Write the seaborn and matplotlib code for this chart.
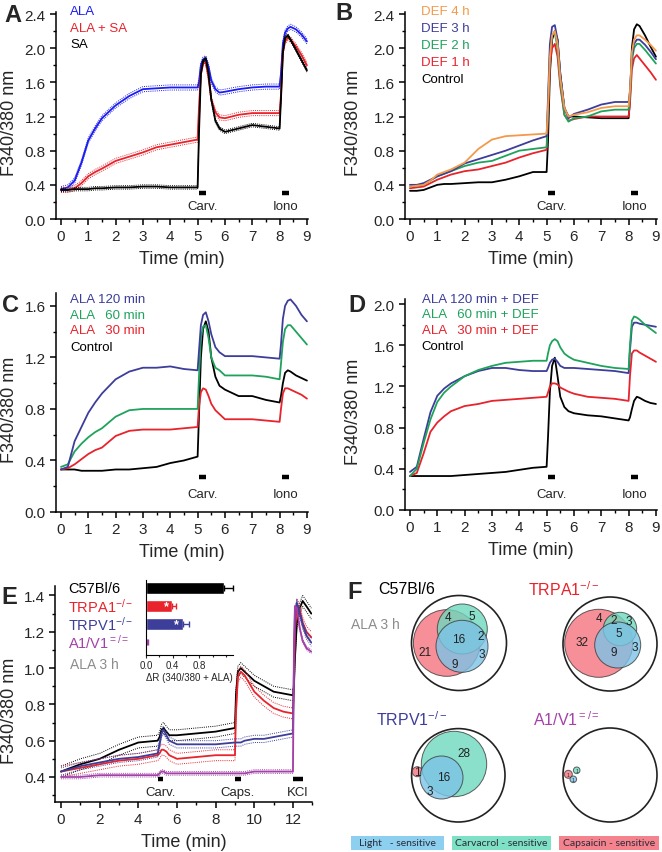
import matplotlib
matplotlib.use("Agg")
import matplotlib.pyplot as plt
from matplotlib.patches import Circle, Rectangle
from matplotlib.ticker import MultipleLocator, FormatStrFormatter, FixedLocator
import seaborn as sns

W, H = 662, 853

# ---------------- data ----------------
# shared time grid for panels A-D (min)
T9 = [0, 0.25, 0.5, 0.75, 1, 1.25, 1.5, 2, 2.5, 3, 3.5, 4, 4.5, 5,
      5.05, 5.12, 5.2, 5.3, 5.4, 5.5, 5.65, 5.8,
      6, 6.5, 7, 7.5, 8,
      8.05, 8.12, 8.2, 8.3, 8.4, 8.6, 8.8, 9]

# A
A_ALA = [0.35, 0.37, 0.45, 0.66, 0.92, 1.06, 1.18, 1.33, 1.44, 1.52, 1.53, 1.54, 1.54, 1.54,
         1.60, 1.80, 1.87, 1.88, 1.78, 1.62, 1.52, 1.48,
         1.49, 1.52, 1.54, 1.55, 1.55,
         1.70, 2.05, 2.18, 2.23, 2.25, 2.22, 2.16, 2.08]
A_ALA_SA = [0.34, 0.34, 0.36, 0.42, 0.50, 0.55, 0.59, 0.68, 0.73, 0.78, 0.84, 0.87, 0.90, 0.93,
            1.30, 1.70, 1.82, 1.83, 1.65, 1.40, 1.25, 1.19,
            1.18, 1.22, 1.24, 1.24, 1.24,
            1.45, 1.95, 2.08, 2.12, 2.10, 2.02, 1.92, 1.80]
A_SA = [0.34, 0.34, 0.35, 0.35, 0.35, 0.36, 0.36, 0.37, 0.37, 0.38, 0.38, 0.37, 0.37, 0.37,
        1.00, 1.70, 1.85, 1.88, 1.70, 1.40, 1.15, 1.06,
        1.02, 1.06, 1.10, 1.08, 1.06,
        1.40, 1.95, 2.12, 2.15, 2.10, 1.98, 1.86, 1.74]
A_SEM = [0.03, 0.03, 0.02]

# B
B_DEF4 = [0.38, 0.39, 0.40, 0.45, 0.52, 0.55, 0.58, 0.66, 0.82, 0.93, 0.97, 0.98, 0.99, 1.00,
          1.30, 1.90, 2.15, 2.20, 2.05, 1.65, 1.30, 1.20,
          1.22, 1.25, 1.30, 1.32, 1.32,
          1.50, 1.95, 2.10, 2.15, 2.15, 2.10, 2.04, 1.97]
B_DEF3 = [0.40, 0.40, 0.42, 0.46, 0.50, 0.53, 0.56, 0.65, 0.70, 0.75, 0.80, 0.86, 0.92, 0.97,
          1.40, 2.05, 2.25, 2.27, 2.10, 1.70, 1.30, 1.18,
          1.23, 1.28, 1.34, 1.37, 1.37,
          1.50, 1.90, 2.05, 2.10, 2.10, 2.04, 1.96, 1.87]
B_DEF2 = [0.38, 0.39, 0.40, 0.45, 0.50, 0.53, 0.56, 0.62, 0.66, 0.68, 0.74, 0.80, 0.82, 0.84,
          1.30, 1.95, 2.15, 2.18, 2.00, 1.60, 1.22, 1.14,
          1.18, 1.20, 1.26, 1.28, 1.28,
          1.45, 1.85, 2.00, 2.05, 2.05, 1.98, 1.90, 1.82]
B_DEF1 = [0.36, 0.37, 0.38, 0.42, 0.46, 0.49, 0.52, 0.56, 0.58, 0.62, 0.66, 0.72, 0.77, 0.81,
          1.20, 1.80, 2.00, 2.05, 1.90, 1.55, 1.22, 1.15,
          1.17, 1.20, 1.20, 1.20, 1.20,
          1.35, 1.75, 1.88, 1.92, 1.88, 1.80, 1.72, 1.63]
B_CTRL = [0.33, 0.33, 0.34, 0.37, 0.40, 0.41, 0.41, 0.42, 0.43, 0.43, 0.46, 0.50, 0.55, 0.55,
          0.90, 1.70, 2.10, 2.20, 2.10, 1.70, 1.30, 1.20,
          1.20, 1.19, 1.18, 1.18, 1.18,
          1.40, 2.00, 2.22, 2.28, 2.26, 2.15, 2.02, 1.90]

# C
C_120 = [0.33, 0.35, 0.55, 0.66, 0.77, 0.85, 0.92, 1.03, 1.09, 1.12, 1.12, 1.13, 1.11, 1.10,
         1.25, 1.45, 1.53, 1.55, 1.48, 1.38, 1.28, 1.24,
         1.21, 1.21, 1.21, 1.20, 1.19,
         1.30, 1.50, 1.60, 1.64, 1.65, 1.60, 1.53, 1.48]
C_60 = [0.35, 0.37, 0.47, 0.53, 0.58, 0.62, 0.65, 0.74, 0.79, 0.80, 0.80, 0.80, 0.80, 0.80,
        1.05, 1.35, 1.44, 1.45, 1.35, 1.20, 1.12, 1.10,
        1.06, 1.06, 1.06, 1.05, 1.03,
        1.15, 1.32, 1.42, 1.45, 1.45, 1.40, 1.35, 1.30]
C_30 = [0.33, 0.34, 0.37, 0.41, 0.45, 0.48, 0.50, 0.59, 0.63, 0.64, 0.64, 0.64, 0.65, 0.66,
        0.82, 0.93, 0.96, 0.95, 0.90, 0.84, 0.79, 0.76,
        0.72, 0.72, 0.72, 0.71, 0.70,
        0.80, 0.92, 0.96, 0.96, 0.95, 0.93, 0.91, 0.88]
C_CTRL = [0.33, 0.33, 0.33, 0.32, 0.32, 0.32, 0.32, 0.33, 0.33, 0.34, 0.35, 0.38, 0.40, 0.43,
          0.75, 1.20, 1.42, 1.48, 1.40, 1.20, 1.05, 0.98,
          0.95, 0.90, 0.90, 0.87, 0.85,
          0.90, 1.00, 1.08, 1.10, 1.09, 1.06, 1.04, 1.02]

# D
D_120 = [0.37, 0.42, 0.69, 0.95, 1.11, 1.18, 1.23, 1.30, 1.35, 1.38, 1.38, 1.36, 1.35, 1.35,
         1.38, 1.43, 1.46, 1.47, 1.44, 1.40, 1.38, 1.38,
         1.38, 1.37, 1.36, 1.35, 1.33,
         1.55, 1.78, 1.82, 1.82, 1.81, 1.80, 1.79, 1.78]
D_60 = [0.33, 0.40, 0.65, 0.88, 1.05, 1.14, 1.20, 1.30, 1.36, 1.40, 1.43, 1.44, 1.45, 1.45,
        1.52, 1.60, 1.64, 1.66, 1.64, 1.58, 1.52, 1.49,
        1.46, 1.43, 1.40, 1.38, 1.37,
        1.60, 1.84, 1.88, 1.87, 1.85, 1.80, 1.76, 1.72]
D_30 = [0.33, 0.36, 0.55, 0.76, 0.85, 0.91, 0.96, 1.01, 1.03, 1.06, 1.07, 1.08, 1.09, 1.10,
        1.14, 1.20, 1.23, 1.23, 1.22, 1.19, 1.17, 1.15,
        1.13, 1.10, 1.09, 1.08, 1.06,
        1.30, 1.52, 1.55, 1.55, 1.53, 1.50, 1.47, 1.44]
D_CTRL = [0.33, 0.33, 0.33, 0.33, 0.33, 0.33, 0.33, 0.34, 0.35, 0.36, 0.37, 0.39, 0.41, 0.42,
          0.70, 1.15, 1.40, 1.48, 1.30, 1.10, 1.00, 0.96,
          0.94, 0.92, 0.91, 0.89, 0.87,
          0.90, 0.98, 1.06, 1.10, 1.09, 1.06, 1.04, 1.03]

# E
TE = [0, 1, 2, 3, 4, 5, 5.1, 5.2, 5.3, 5.45, 5.6, 6, 7, 8, 9,
      9.05, 9.15, 9.3, 9.5, 10, 10.5, 11, 11.5, 12,
      12.05, 12.1, 12.2, 12.35, 12.5, 12.7, 12.95]
E_C57 = [0.43, 0.47, 0.50, 0.55, 0.59, 0.60, 0.62, 0.66, 0.67, 0.65, 0.63, 0.63, 0.64, 0.65, 0.67,
         0.85, 0.98, 1.00, 0.98, 0.93, 0.90, 0.87, 0.86, 0.85,
         0.90, 1.05, 1.25, 1.33, 1.37, 1.34, 1.30]
E_A1 = [0.43, 0.45, 0.47, 0.49, 0.50, 0.52, 0.53, 0.55, 0.55, 0.54, 0.52, 0.50, 0.51, 0.52, 0.52,
        0.75, 0.95, 0.98, 0.96, 0.87, 0.82, 0.78, 0.76, 0.75,
        0.90, 1.20, 1.35, 1.32, 1.25, 1.20, 1.17]
E_V1 = [0.43, 0.46, 0.48, 0.50, 0.51, 0.53, 0.58, 0.64, 0.66, 0.63, 0.60, 0.58, 0.58, 0.58, 0.59,
        0.59, 0.59, 0.59, 0.60, 0.61, 0.61, 0.62, 0.63, 0.64,
        1.00, 1.30, 1.36, 1.30, 1.24, 1.18, 1.14]
E_A1V1 = [0.40, 0.40, 0.41, 0.41, 0.41, 0.41, 0.42, 0.43, 0.43, 0.42, 0.42, 0.42, 0.42, 0.42, 0.42,
          0.42, 0.42, 0.42, 0.42, 0.43, 0.43, 0.43, 0.43, 0.43,
          1.10, 1.34, 1.33, 1.22, 1.15, 1.11, 1.09]
E_SEM = [0.03, 0.03, 0.02, 0.01]

# E inset bars
BAR_GROUPS = ["C57Bl/6", "TRPA1", "TRPV1", "A1/V1"]
BAR_DR = [1.17, 0.39, 0.55, 0.02]
BAR_ERR = [0.14, 0.06, 0.10, 0.01]

# F venn counts
VENN_C57 = ["21", "4", "5", "16", "2", "3", "9"]
VENN_A1 = ["32", "4", "2", "3", "5", "9", "3"]
VENN_V1 = ["28", "16", "1", "3"]
VENN_A1V1 = ["1", "1", "1"]

# ---------------- style ----------------
sns.set_theme(style="ticks")
plt.rcParams['font.family'] = ['Liberation Sans', 'DejaVu Sans']
plt.rcParams['mathtext.fontset'] = 'custom'
plt.rcParams['mathtext.rm'] = 'Liberation Sans'
plt.rcParams['mathtext.it'] = 'Liberation Sans:italic'
plt.rcParams['mathtext.bf'] = 'Liberation Sans:bold'

BLUE = "#1c1cf0"
RED = "#e8232b"
NAVY = "#3d3d9a"
GREEN = "#1ea35c"
ORANGE = "#f39a4a"
PURPLE = "#a441a8"
GREY = "#8c8c8c"

fig = plt.figure(figsize=(W / 100, H / 100), dpi=100)


def add_ax(left, top, right, bottom):
    return fig.add_axes([left / W, 1 - bottom / H, (right - left) / W, (bottom - top) / H])


def ftext(x, y, s, **kw):
    fig.text(x / W, 1 - y / H, s, **kw)


def style_ax(ax, xmajor, xminor, ymajor, yminor, ylab_px, ylab_frac=0.47):
    sns.despine(ax=ax)
    for s in ['left', 'bottom']:
        ax.spines[s].set_linewidth(1.1)
        ax.spines[s].set_color('black')
    ax.xaxis.set_major_locator(MultipleLocator(xmajor))
    ax.xaxis.set_minor_locator(MultipleLocator(xminor))
    ax.yaxis.set_major_locator(MultipleLocator(ymajor))
    ax.yaxis.set_minor_locator(MultipleLocator(yminor))
    ax.yaxis.set_major_formatter(FormatStrFormatter('%.1f'))
    ax.tick_params(which='major', labelsize=11, length=4, width=1.1, color='black', pad=3)
    ax.tick_params(which='minor', length=2.5, width=1.0, color='black')
    ax.set_xlabel("Time (min)", fontsize=13, labelpad=5)
    ax.set_ylabel("F340/380 nm", fontsize=13)
    bb = ax.get_position()
    ax.yaxis.set_label_coords(-(bb.x0 * W - ylab_px) / (bb.width * W), ylab_frac)


def trace(ax, t, y, c, lw=1.3, sem=None):
    sns.lineplot(x=t, y=y, ax=ax, color=c, linewidth=lw, sort=False, estimator=None)
    if sem:
        for sgn in (-1, 1):
            ax.plot(t, [v + sgn * sem for v in y], color=c, lw=0.7, ls=(0, (1, 1.2)))


def stim(ax, x0, x1, ybar, ytxt, label):
    ax.plot([x0, x1], [ybar, ybar], color='black', lw=3.2, solid_capstyle='butt')
    ax.text((x0 + x1) / 2, ytxt, label, ha='center', va='center', fontsize=9.5)


def legend_text(ax, x, rows):
    for y, s, c in rows:
        ax.text(x, y, s, color=c, fontsize=9.5, va='center', ha='left', clip_on=False)


# ---------------- A ----------------
axA = add_ax(55.5, 13.3, 308.3, 220)
axA.set_xlim(-0.2, 9.05)
axA.set_ylim(0, 2.42)
for y, s, c in zip([A_ALA, A_ALA_SA, A_SA], A_SEM, [BLUE, RED, "black"]):
    trace(axA, T9, y, c, sem=s)
style_ax(axA, 1, 0.5, 0.4, 0.2, 18)
stim(axA, 5.05, 5.3, 0.3, 0.15, "Carv.")
stim(axA, 8.1, 8.35, 0.3, 0.15, "Iono")
legend_text(axA, 0.33, [(2.43, "ALA", BLUE), (2.24, "ALA + SA", RED), (2.05, "SA", "black")])

# ---------------- B ----------------
axB = add_ax(404.5, 13.3, 657.3, 220)
axB.set_xlim(-0.2, 9.05)
axB.set_ylim(0, 2.42)
for y, c in zip([B_CTRL, B_DEF1, B_DEF2, B_DEF3, B_DEF4], ["black", RED, GREEN, NAVY, ORANGE]):
    trace(axB, T9, y, c)
style_ax(axB, 1, 0.5, 0.4, 0.2, 362)
stim(axB, 5.05, 5.3, 0.3, 0.15, "Carv.")
stim(axB, 8.1, 8.35, 0.3, 0.15, "Iono")
legend_text(axB, 0.4, [(2.43, "DEF 4 h", ORANGE), (2.24, "DEF 3 h", NAVY), (2.04, "DEF 2 h", GREEN),
                       (1.84, "DEF 1 h", RED), (1.64, "Control", "black")])

# ---------------- C ----------------
axC = add_ax(55.5, 294, 308.3, 513)
axC.set_xlim(-0.2, 9.05)
axC.set_ylim(0, 1.7)
for y, c in zip([C_CTRL, C_30, C_60, C_120], ["black", RED, GREEN, NAVY]):
    trace(axC, T9, y, c)
style_ax(axC, 1, 0.5, 0.4, 0.2, 18)
stim(axC, 5.05, 5.3, 0.27, 0.14, "Carv.")
stim(axC, 8.1, 8.35, 0.27, 0.14, "Iono")
legend_text(axC, 0.33, [(1.65, "ALA 120 min", NAVY), (1.53, "ALA   60 min", GREEN),
                        (1.41, "ALA   30 min", RED), (1.28, "Control", "black")])

# ---------------- D ----------------
axD = add_ax(404.5, 300, 657.3, 511)
axD.set_xlim(-0.2, 9.05)
axD.set_ylim(0, 2.05)
for y, c in zip([D_CTRL, D_30, D_120, D_60], ["black", RED, NAVY, GREEN]):
    trace(axD, T9, y, c)
style_ax(axD, 1, 0.5, 0.4, 0.2, 362)
stim(axD, 5.05, 5.3, 0.32, 0.155, "Carv.")
stim(axD, 8.1, 8.35, 0.32, 0.155, "Iono")
legend_text(axD, 0.43, [(2.05, "ALA 120 min + DEF", NAVY), (1.9, "ALA   60 min + DEF", GREEN),
                        (1.75, "ALA   30 min + DEF", RED), (1.59, "Control", "black")])

# ---------------- E ----------------
axE = add_ax(55.2, 587.4, 312.3, 803.4)
axE.set_xlim(-0.3, 13.0)
axE.set_ylim(0.26, 1.45)
for y, s, c in zip([E_C57, E_A1, E_V1, E_A1V1], E_SEM, ["black", RED, NAVY, PURPLE]):
    trace(axE, TE, y, c, sem=s)
style_ax(axE, 2, 1, 0.2, 0.1, 18, ylab_frac=0.43)
stim(axE, 5.0, 5.3, 0.39, 0.32, "Carv.")
stim(axE, 9.0, 9.3, 0.39, 0.32, "Caps.")
stim(axE, 12.0, 12.5, 0.39, 0.32, "KCl")

ftext(68, 589, "C57Bl/6", fontsize=10.5, va='center', color='black')
ftext(68, 607, r"TRPA1$^{-/-}$", fontsize=10.5, va='center', color=RED)
ftext(68, 625, r"TRPV1$^{-/-}$", fontsize=10.5, va='center', color=NAVY)
ftext(68, 643, r"A1/V1$^{=/=}$", fontsize=10.5, va='center', color=PURPLE)
ftext(70, 665, "ALA 3 h", fontsize=10, va='center', color=GREY)

BAR_COLORS = ["black", RED, NAVY, PURPLE]
axI = add_ax(146, 581, 232.7, 655.6)
sns.barplot(x=BAR_DR, y=BAR_GROUPS, hue=BAR_GROUPS, orient='h', legend=False, ax=axI,
            palette=BAR_COLORS, width=0.68, saturation=1, errorbar=None)
for i, (v, e, c) in enumerate(zip(BAR_DR, BAR_ERR, BAR_COLORS)):
    axI.errorbar([v], [i], xerr=[[0], [e]], fmt='none', ecolor=c, elinewidth=1, capsize=2,
                 clip_on=False)
axI.set_xlim(0, 1.3)
axI.set_ylim(3.7, -0.45)
sns.despine(ax=axI)
axI.set_yticks([])
axI.set_ylabel("")
axI.xaxis.set_major_locator(FixedLocator([0.0, 0.4, 0.8]))
axI.xaxis.set_minor_locator(FixedLocator([0.2, 0.6, 1.0, 1.2]))
axI.xaxis.set_major_formatter(FormatStrFormatter('%.1f'))
axI.tick_params(axis='x', which='major', labelsize=7, length=2.5, width=0.8, pad=1.5)
axI.tick_params(axis='x', which='minor', length=1.5, width=0.8)
for s in ['left', 'bottom']:
    axI.spines[s].set_linewidth(0.8)
    axI.spines[s].set_color('black')
axI.set_xlabel("ΔR (340/380 + ALA)", fontsize=7, labelpad=1)
axI.text(0.3, 1, "*", color='white', fontsize=9, ha='center', va='center', fontweight='bold')
axI.text(0.46, 2, "*", color='white', fontsize=9, ha='center', va='center', fontweight='bold')

# ---------------- F ----------------
axF = add_ax(331, 575, 662, 853)
axF.set_xlim(331, 662)
axF.set_ylim(853, 575)
axF.axis('off')

CAP = "#f4737e"
CARV = "#6dd9bd"
LIGHT = "#7cc3e6"


def venn(outer, circles, labels, counts, fs=8.5):
    axF.add_patch(Circle(outer[:2], outer[2], fill=False, ec='#222222', lw=1.2))
    for (x, y, r), c in zip(circles, [CAP, CARV, LIGHT]):
        axF.add_patch(Circle((x, y), r, fc=c, ec='#3a3a3a', lw=0.7, alpha=0.8))
    for (x, y), s in zip(labels, counts):
        axF.text(x, y, s, ha='center', va='center', fontsize=fs, color='#222222')


venn((459, 644, 47.5),
     [(446.7, 644, 33.3), (462.3, 630, 25), (462, 647.3, 26)],
     [(425, 653), (448.3, 618.3), (471.7, 616.7), (458.3, 640), (481, 636.7), (481.7, 655), (454.3, 665)],
     VENN_C57)
venn((610, 645, 47),
     [(598.7, 644.3, 34), (620, 630, 16.7), (617.7, 646, 23)],
     [(581.7, 643.3), (599.3, 619.3), (613.3, 621), (628.3, 622.3), (618.3, 634.3), (613.3, 653.3), (634.3, 648.3)],
     VENN_A1)
venn((458.3, 776.3, 46.7),
     [(417.3, 772.7, 5), (454, 765, 32.7), (441.5, 778.5, 21.5)],
     [(464.3, 754.3), (443.3, 777.7), (417.3, 772.7), (430, 792)],
     VENN_V1)
venn((610, 776, 47),
     [(568.3, 775.3, 4), (576.7, 771.3, 3.3), (573.3, 780.3, 3.3)],
     [(568.3, 775.3), (576.7, 771.3), (573.3, 780.3)],
     VENN_A1V1, fs=3.5)

axF.text(378, 590, "C57Bl/6", fontsize=11.5, va='center', ha='left', color='black')
axF.text(528, 590, r"TRPA1$^{-/-}$", fontsize=11.5, va='center', ha='left', color=RED)
axF.text(351, 625, "ALA 3 h", fontsize=10, va='center', ha='left', color=GREY)
axF.text(376, 720, r"TRPV1$^{-/-}$", fontsize=11.5, va='center', ha='left', color=NAVY)
axF.text(533, 720, r"A1/V1$^{=/=}$", fontsize=11.5, va='center', ha='left', color=PURPLE)

for (x0, x1), c, s in zip([(351, 444), (452, 551), (559, 659)],
                          ["#8ccfee", "#7ee0c4", "#f5838d"],
                          ["Light   - sensitive", "Carvacrol - sensitive", "Capsaicin - sensitive"]):
    axF.add_patch(Rectangle((x0, 837), x1 - x0, 14, fc=c, ec='none'))
    axF.text((x0 + x1) / 2, 844, s, ha='center', va='center', fontsize=7.5,
             family=['Lato', 'DejaVu Sans'], color='#2a2a3a')

# panel letters
for x, y, s in [(4, 15, "A"), (335, 13, "B"), (2, 305, "C"), (348, 305, "D"),
                (1, 598, "E"), (347, 593, "F")]:
    ftext(x, y, s, fontsize=17, fontweight='bold', va='center', ha='left')

fig.savefig("out.png", dpi=100)
